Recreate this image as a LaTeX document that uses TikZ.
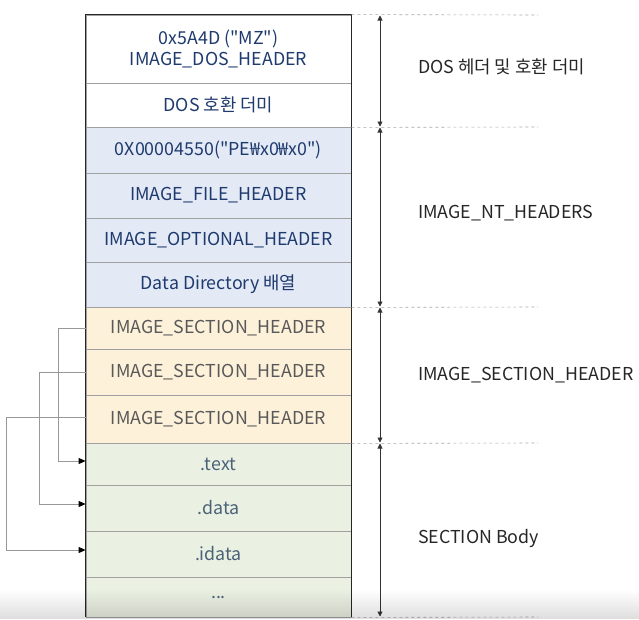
\documentclass[tikz,border=0pt]{standalone}
\usepackage{fontspec}
\setmainfont{Noto Sans CJK KR}
\usetikzlibrary{arrows.meta}
\definecolor{bluefill}{HTML}{E3EAF6}
\definecolor{orfill}{HTML}{FDF1DA}
\definecolor{grfill}{HTML}{EAF0E2}
\definecolor{navy}{HTML}{1F3A6E}
\definecolor{ishtext}{HTML}{595959}
\definecolor{grtext}{HTML}{4A6278}
\definecolor{sepline}{HTML}{A0A0A0}
\newcommand{\dq}{\textquotedbl}
\tikzset{
  row/.style={draw=sepline, line width=0.8pt, minimum width=265pt, inner sep=0pt, align=center, font=\fontsize{17.8}{21}\selectfont},
  dosrow/.style={row, fill=white, text=navy},
  ntrow/.style={row, fill=bluefill, text=navy},
  ishrow/.style={row, fill=orfill, text=ishtext},
  secrow/.style={row, fill=grfill, text=grtext},
  conn/.style={draw=gray!80, line width=1pt, -{Triangle[length=7pt,width=6pt,color=black]}},
  span/.style={draw=black!80, line width=0.6pt, {Triangle[length=5pt,width=5pt]}-{Triangle[length=5pt,width=5pt]}, shorten <=0.5pt, shorten >=0.5pt},
  guide/.style={draw=gray!70, dashed, line width=0.6pt},
  lbl/.style={anchor=west, inner sep=0pt, text=black!85, font=\fontsize{17.8}{21}\selectfont}
}
\begin{document}
\begin{tikzpicture}[x=1pt,y=-1pt]
\useasboundingbox (0,0) rectangle (639,619);
% rows
\node[dosrow, minimum height=68pt] (r1) at (218.5,49) {0x5A4D (\dq MZ\dq)\\IMAGE\_DOS\_HEADER};
\node[dosrow, minimum height=44pt] (r2) at (218.5,105) {DOS 호환 더미};
\node[ntrow, minimum height=46pt] (r3) at (218.5,150) {0X00004550(\dq PE₩x0₩x0\dq)};
\node[ntrow, minimum height=45pt] (r4) at (218.5,195.5) {IMAGE\_FILE\_HEADER};
\node[ntrow, minimum height=44pt] (r5) at (218.5,240) {IMAGE\_OPTIONAL\_HEADER};
\node[ntrow, minimum height=45pt] (r6) at (218.5,284.5) {Data Directory 배열};
\node[ishrow, minimum height=42pt] (r7) at (218.5,328) {IMAGE\_SECTION\_HEADER};
\node[ishrow, minimum height=46pt] (r8) at (218.5,372) {IMAGE\_SECTION\_HEADER};
\node[ishrow, minimum height=48pt] (r9) at (218.5,419) {IMAGE\_SECTION\_HEADER};
\node[secrow, minimum height=42pt] (r10) at (218.5,464) {.text};
\node[secrow, minimum height=46pt] (r11) at (218.5,508) {.data};
\node[secrow, minimum height=46pt] (r12) at (218.5,554) {.idata};
\node[secrow, minimum height=40pt] (r13) at (218.5,597) {...};
% outer frame
\draw[black!85, line width=1pt] (r13.south west) -- (r1.north west) -- (r1.north east) -- (r13.south east);
% connectors
\draw[conn] (r7.west) -- ++(-27,0) |- ([yshift=3pt]r10.west);
\draw[conn] (r8.west) -- ++(-46,0) |- ([yshift=4pt]r11.west);
\draw[conn] ([yshift=1.5pt]r9.west) -- ++(-79,0) |- ([yshift=4pt]r12.west);
% guides
\coordinate (g1) at (538,15);
\coordinate (g2) at (538,127);
\coordinate (g3) at (538,307);
\coordinate (g4) at (538,443);
\coordinate (g5) at (538,617);
\draw[guide] (r1.north east) -- (g1);
\draw[guide] (r2.south east) -- (g2);
\draw[guide] (r6.south east) -- (g3);
\draw[guide] (r9.south east) -- (g4);
\draw[guide] (r13.south east) -- (g5);
% spans
\coordinate (s1) at (380,15);
\coordinate (s2) at (380,127);
\coordinate (s3) at (380,307);
\coordinate (s4) at (380,443);
\coordinate (s5) at (380,617);
\draw[span] (s1) -- (s2);
\draw[span] (s2) -- (s3);
\draw[span] (s3) -- (s4);
\draw[span] (s4) -- (s5);
% labels
\node[lbl] (l1) at (418,67) {DOS 헤더 및 호환 더미};
\node[lbl] (l2) at (418,213) {IMAGE\_NT\_HEADERS};
\node[lbl] (l3) at (418,375) {IMAGE\_SECTION\_HEADER};
\node[lbl] (l4) at (418,538) {SECTION Body};
% bottom fade
\foreach \i in {0,...,14} {
  \fill[black, opacity=0.009*\i] (0,589+2*\i) rectangle (639,591+2*\i);
}
\end{tikzpicture}
\end{document}
